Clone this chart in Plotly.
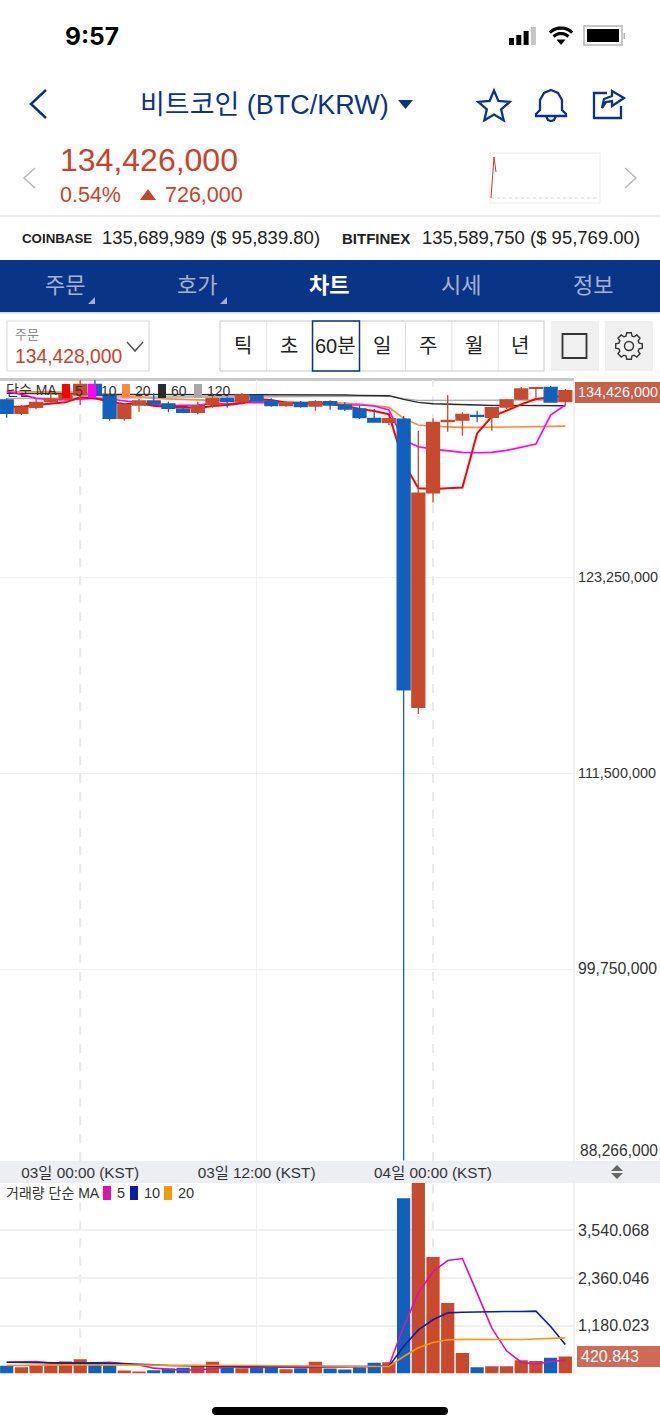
import math
import plotly.graph_objects as go

W, H = 660, 1428
KR = "Liberation Sans, Noto Sans CJK KR, sans-serif"

times = ["02 19:00","02 20:00","02 21:00","02 22:00","02 23:00","03 00:00","03 01:00","03 02:00","03 03:00","03 04:00",
         "03 05:00","03 06:00","03 07:00","03 08:00","03 09:00","03 10:00","03 11:00","03 12:00","03 13:00","03 14:00",
         "03 15:00","03 16:00","03 17:00","03 18:00","03 19:00","03 20:00","03 21:00","03 22:00","03 23:00","04 00:00",
         "04 01:00","04 02:00","04 03:00","04 04:00","04 05:00","04 06:00","04 07:00","04 08:00","04 09:00"]
tick_times = ["03 00:00", "03 12:00", "04 00:00"]
tick_labels = ["03일 00:00 (KST)", "03일 12:00 (KST)", "04일 00:00 (KST)"]

# prices in millions of KRW
open_m = [133.86,133.06,133.42,133.76,133.92,134.16,134.80,134.16,132.76,133.56,133.80,133.62,133.32,133.12,133.60,133.96,133.76,134.12,133.80,133.52,
          133.70,133.50,133.76,133.56,133.32,132.76,132.52,132.72,115.44,128.29,132.56,132.66,132.94,132.82,133.44,133.92,134.56,134.62,133.76]
high_m = [133.96,133.56,133.96,134.46,134.36,135.06,135.06,134.26,133.66,133.92,134.26,133.76,133.46,133.76,134.26,134.06,134.26,134.16,133.96,133.80,
          133.80,133.86,133.84,133.72,133.52,133.32,132.76,132.90,132.00,132.76,134.16,133.12,133.22,133.46,133.92,134.64,134.60,134.70,134.52]
low_m = [132.80,132.96,133.30,133.66,133.86,133.56,133.92,132.62,132.62,133.16,133.46,133.12,133.06,133.00,133.40,133.40,133.60,133.76,133.46,133.46,
         133.40,133.22,133.28,133.20,132.72,132.50,132.36,88.27,115.04,127.71,131.96,131.72,132.52,132.02,133.32,133.86,134.00,133.70,133.56]
close_m = [133.06,133.42,133.72,133.92,134.20,134.80,134.12,132.76,133.56,133.80,133.66,133.36,133.12,133.52,133.96,133.76,134.16,133.80,133.52,133.70,
           133.46,133.76,133.56,133.32,132.80,132.54,132.74,116.48,128.27,132.52,132.64,133.00,132.88,133.40,133.86,134.52,134.60,133.74,134.426]

ma5_m = [133.46,133.46,133.56,133.66,133.72,134.02,133.96,133.76,133.60,133.66,133.52,133.44,133.46,133.36,133.50,133.56,133.66,133.92,133.86,133.70,
         133.66,133.66,133.62,133.52,133.32,133.20,133.00,130.12,128.57,128.53,128.55,128.61,131.86,132.86,133.22,133.60,133.92,134.00,134.12]
ma10_m = [134.36,134.20,133.96,133.88,133.86,133.92,133.96,133.92,133.80,133.72,133.60,133.52,133.52,133.56,133.66,133.62,133.70,133.70,133.70,133.72,
          133.68,133.66,133.66,133.56,133.56,133.50,133.26,131.46,131.06,130.92,130.80,130.72,130.70,130.72,130.84,131.04,131.22,132.96,133.56]
ma20_m = [134.36,134.36,134.36,134.36,134.34,134.32,134.16,134.12,134.12,134.06,133.96,133.92,133.88,133.84,133.84,133.82,133.80,133.80,133.80,133.78,
          133.76,133.74,133.72,133.68,133.62,133.54,133.42,132.76,132.36,132.28,132.24,132.22,132.22,132.22,132.22,132.24,132.26,132.28,132.30]
ma60_m = [134.26,134.26,134.26,134.24,134.24,134.22,134.22,134.20,134.20,134.20,134.18,134.18,134.16,134.16,134.16,134.16,134.16,134.16,134.16,134.16,
          134.16,134.16,134.16,134.16,134.14,134.14,134.12,133.90,133.72,133.64,133.60,133.58,133.56,133.54,133.54,133.54,133.54,133.52,133.52]
ma120_m = [133.96,133.96,133.96,133.96,133.96,134.00,134.00,134.00,134.00,134.00,134.04,134.04,134.04,134.04,134.04,134.04,134.04,134.04,134.04,134.08,
           134.08,134.08,134.08,134.08,134.08,134.08,134.10,133.94,133.84,133.84,133.84,133.84,133.84,133.84,133.84,133.84,133.84,133.84,133.86]

volume = [190,157,206,223,297,355,239,206,74,50,82,124,140,190,289,157,132,140,140,107,
          132,289,124,99,148,264,280,4335,4900,2882,1744,507,153,178,178,327,309,391,420.843]
vol_ma5 = [280,297,297,256,247,256,264,280,247,214,132,99,82,91,115,165,148,148,157,165,
           148,165,165,165,165,173,190,1163,1988,2524,2796,2845,1988,1122,561,280,231,297,330]
vol_ma10 = [280,272,272,264,256,256,264,256,247,231,214,198,190,181,173,173,173,173,173,173,
            173,173,173,173,173,173,181,668,1080,1328,1501,1517,1526,1534,1534,1534,1542,1163,717]
vol_ma20 = [198,206,214,214,214,214,214,214,214,214,214,214,214,206,206,206,198,198,190,190,
            181,181,173,173,173,173,173,421,635,767,833,849,841,841,841,841,858,874,882]

price_ticks = [123250000, 111500000, 99750000]
price_tick_labels = ["123,250,000", "111,500,000", '<span style="font-size:15.8px">99,750,000</span>']
volume_ticks = [1180.023, 2360.046, 3540.068]
last_price = 134426000
last_volume = 420.843
lowest_label = 88266000

M = 1e6
RED, BLUE = "#c8492c", "#1060c0"
NAVY = "#0a3587"


def fx(x):
    return x / W


def fy(y):
    return 1 - y / H


def path_px(pts, close=False):
    s = "M " + " L ".join(f"{fx(a):.5f} {fy(b):.5f}" for a, b in pts)
    return s + (" Z" if close else "")


shapes, notes = [], []


def rect(x0, y0, x1, y1, fill=None, line=None, lw=1, layer="above"):
    shapes.append(dict(type="rect", xref="paper", yref="paper", x0=fx(x0), x1=fx(x1), y0=fy(y1), y1=fy(y0),
                       fillcolor=fill or "rgba(0,0,0,0)", line=dict(color=line or "rgba(0,0,0,0)", width=lw if line else 0),
                       layer=layer))


def poly(pts, line=None, lw=1.5, fill=None, close=False, dash=None):
    ln = dict(color=line or "rgba(0,0,0,0)", width=lw if line else 0)
    if dash:
        ln["dash"] = dash
    shapes.append(dict(type="path", xref="paper", yref="paper", path=path_px(pts, close),
                       fillcolor=fill or "rgba(0,0,0,0)", line=ln, layer="above"))


def circle(cx, cy, r, line=None, lw=1.5, fill=None):
    shapes.append(dict(type="circle", xref="paper", yref="paper", x0=fx(cx - r), x1=fx(cx + r), y0=fy(cy + r), y1=fy(cy - r),
                       fillcolor=fill or "rgba(0,0,0,0)", line=dict(color=line or "rgba(0,0,0,0)", width=lw if line else 0),
                       layer="above"))


def text(x, y, s, size, color="#222222", anchor="left", bold=False, family=KR):
    notes.append(dict(xref="paper", yref="paper", x=fx(x), y=fy(y), text=f"<b>{s}</b>" if bold else s,
                      showarrow=False, xanchor=anchor, yanchor="middle", align=anchor,
                      font=dict(size=size, color=color, family=family), borderpad=0))


# ---------- panels (below the traces)
rect(0, 1161, W, 1183, fill="#eceef4", layer="below")
rect(0, 378, 574, 381, fill="#c9c9c9", layer="below")
rect(573.5, 381, 574.5, 1161, fill="#e6e6e6", layer="below")
rect(573.5, 1183, 574.5, 1374, fill="#e6e6e6", layer="below")

for axis_y, y0, y1 in (("y domain", 0, 1), ("y2 domain", 0, 1)):
    xaxis = "x" if axis_y.startswith("y ") else "x2"
    for t, dash, col, wd in ((tick_times[0], "dash", "#e8eaee", 2), (tick_times[1], "solid", "#eff0f4", 1), (tick_times[2], "dash", "#e8eaee", 2)):
        shapes.append(dict(type="line", xref=xaxis, yref=axis_y, x0=t, x1=t, y0=y0, y1=y1,
                           line=dict(color=col, width=wd, dash=dash), layer="below"))

# ---------- status bar
text(64, 36, "9:57", 24.5, "#000000", bold=True, family="Inter, Liberation Sans")
for i, top in enumerate((38, 35, 31, 27)):
    rect(509 + i * 7.3, top, 514 + i * 7.3, 45, fill="#000000" if i < 3 else "#c4c4c4")
for r in (16, 10.5):
    pts = [(561 + r * math.sin(a / 10 * 1.56 - .78), 44 - r * math.cos(a / 10 * 1.56 - .78)) for a in range(11)]
    poly(pts, line="#000000", lw=3.2)
poly([(556.5, 39.5), (565.5, 39.5), (561, 45)], fill="#000000", close=True)
rect(584, 26, 622, 45, line="#b5b5b5", lw=1.5)
rect(587, 29, 619, 42, fill="#000000")
rect(623.5, 33, 625, 39, fill="#b5b5b5")

# ---------- header
poly([(46, 90), (31, 104), (46, 118)], line=NAVY, lw=2.5)
text(264, 105, "비트코인 (BTC/KRW)", 27, NAVY, "center")
poly([(398, 100), (413, 100), (405.5, 109)], fill=NAVY, close=True)
star = []
for i in range(10):
    r = 16.5 if i % 2 == 0 else 7.5
    a = -math.pi / 2 + i * math.pi / 5
    star.append((494 + r * math.cos(a), 107 + r * math.sin(a)))
poly(star, line=NAVY, lw=2.3, close=True)
poly([(536, 114), (540, 110), (540, 100), (544, 93), (551, 90), (558, 93), (562, 100), (562, 110), (566, 114), (566, 116), (536, 116)],
     line=NAVY, lw=2.3, close=True)
poly([(546, 116), (548, 120), (551, 121), (554, 120), (556, 116)], line=NAVY, lw=2.3)
poly([(607, 93), (594, 93), (594, 118), (621, 118), (621, 106)], line=NAVY, lw=2.3)
poly([(602, 108), (604, 99), (612, 96), (612, 91), (624, 98), (612, 106), (612, 101), (606, 102)], line=NAVY, lw=2.3, close=True)

text(59, 160, "134,426,000", 32, "#c9432a")
text(59, 195, "0.54%", 21.5, "#c9432a")
poly([(140, 200), (156, 200), (148, 189)], fill="#c9432a", close=True)
text(164, 195, "726,000", 21.5, "#c9432a")
poly([(35, 168), (24, 178), (35, 188)], line="#b9b9b9", lw=1.5)
poly([(625, 168), (636, 178), (625, 188)], line="#b9b9b9", lw=1.5)
rect(490, 153, 600, 203, line="#ececec", lw=1)
poly([(491, 198), (598, 198)], line="#d8d8d8", lw=1, dash="dot")
poly([(491, 198), (494, 157), (496, 172)], line="#d0392b", lw=1)
rect(0, 215, W, 217, fill="#eeeeee")

text(21, 239, "COINBASE", 13.3, "#222222", bold=True)
text(101, 238, "135,689,989 ($ 95,839.80)", 18.5, "#222222")
text(341, 239, "BITFINEX", 15, "#222222", bold=True)
text(421, 238, "135,589,750 ($ 95,769.00)", 18.5, "#222222")

rect(0, 260, W, 312, fill=NAVY)
for cx, s, active in ((65, "주문", 0), (197, "호가", 0), (329, "차트", 1), (461, "시세", 0), (593, "정보", 0)):
    text(cx, 286, s, 22, "#ffffff" if active else "#a3b2d0", "center", bold=bool(active))
for x0 in (88, 220):
    poly([(x0, 304), (x0 + 7, 304), (x0 + 7, 297)], fill="#a3b2d0", close=True)
rect(0, 312, W, 313.5, fill="#d5d9e4")

rect(7, 321, 149, 371, line="#dddddd", lw=1.2)
text(14, 334, "주문", 13, "#8a8a8a")
text(14, 356, "134,428,000", 19.3, "#c9432a")
poly([(127, 342), (135, 351), (143, 342)], line="#555555", lw=1.5)
rect(220, 321, 544, 371, line="#dddddd", lw=1.5)
for i in range(1, 7):
    rect(220 + i * 46.3, 321, 220 + i * 46.3 + .8, 371, fill="#dddddd")
for cx, s in ((243, "틱"), (289, "초"), (336, "60분"), (382, "일"), (428, "주"), (474, "월"), (520, "년")):
    text(cx, 346, s, 20, "#222222", "center")
rect(312.5, 321, 359.5, 371, line=NAVY, lw=1.5)
rect(551, 321, 599, 371, fill="#f0f0f0")
rect(562.5, 334, 586.5, 358, line="#333333", lw=1.8)
rect(605, 321, 653, 371, fill="#f0f0f0")
cog = []
for k in range(8):
    base = k * math.pi / 4
    for da, r in ((-.28, 10.5), (-.17, 13.5), (.17, 13.5), (.28, 10.5)):
        cog.append((629 + r * math.cos(base + da), 346 + r * math.sin(base + da)))
poly(cog, line="#333333", lw=1.4, close=True)
circle(629, 346, 4.5, line="#333333", lw=1.4)

# ---------- price legend
text(5, 390, "단순 MA", 14, "#333333")
for x0, col, s in ((62, "#ff0000", "5"), (88, "#ff00ff", "10"), (122, "#ff8a3c", "20"), (158, "#2a2a2a", "60"), (194, "#a9a9a9", "120")):
    rect(x0, 384, x0 + 8, 398, fill=col)
    text(x0 + 12, 391, s, 14, "#333333")

# ---------- volume legend
text(5, 1193, "거래량 단순 MA", 14, "#333333")
for x0, col, s in ((103, "#e010b0", "5"), (130, "#0a1fa8", "10"), (164, "#f59a00", "20")):
    rect(x0, 1186, x0 + 8, 1200, fill=col)
    text(x0 + 13, 1193, s, 14.5, "#333333")

# ---------- value tags
rect(575, 382, W, 403, fill="#c9604a")
notes.append(dict(xref="paper", yref="y", x=fx(617.5), y=last_price, yshift=-1, text=f"{last_price:,}", showarrow=False,
                  xanchor="center", yanchor="middle", font=dict(size=14.4, color="#ffffff", family=KR)))
rect(577, 1346, W, 1367, fill="#cf6a55")
notes.append(dict(xref="paper", yref="y2", x=fx(579), y=last_volume, text=f"{last_volume:,.3f}", showarrow=False,
                  xanchor="left", yanchor="middle", font=dict(size=16, color="#ffffff", family=KR)))
notes.append(dict(xref="paper", yref="y", x=fx(578), y=lowest_label, yshift=10, text=f"{lowest_label:,}", showarrow=False,
                  xanchor="left", yanchor="middle", font=dict(size=15.6, color="#333333", family=KR)))

# ---------- sort arrows / home bar
poly([(611, 1171), (623, 1171), (617, 1165)], fill="#666666", close=True)
poly([(611, 1173), (623, 1173), (617, 1179)], fill="#666666", close=True)
rect(216, 1407, 444, 1415, fill="#000000")
circle(216, 1411, 4, fill="#000000")
circle(444, 1411, 4, fill="#000000")

fig = go.Figure()

bar_colors = [RED if c >= o else BLUE for o, c in zip(open_m, close_m)]
fig.add_trace(go.Bar(x=times, y=volume, marker=dict(color=bar_colors, line=dict(width=0)), xaxis="x2", yaxis="y2", showlegend=False))
for vals, col in ((vol_ma5, "#e010b0"), (vol_ma10, "#0a1fa8"), (vol_ma20, "#f59a00")):
    fig.add_trace(go.Scatter(x=times, y=vals, mode="lines", line=dict(color=col, width=1.6), xaxis="x2", yaxis="y2", showlegend=False))

for vals, col, wd in ((ma120_m, "#a9a9a9", 1.4), (ma60_m, "#2a2a2a", 1.4), (ma20_m, "#ff8a3c", 1.7), (ma10_m, "#ff00ff", 1.7), (ma5_m, "#ff0000", 2)):
    fig.add_trace(go.Scatter(x=times, y=[v * M for v in vals], mode="lines", line=dict(color=col, width=wd), xaxis="x", yaxis="y", showlegend=False))
# candles live on an overlaying axis pair so that they sit on top of the moving averages
fig.add_trace(go.Candlestick(
    x=times,
    open=[v * M for v in open_m], high=[v * M for v in high_m], low=[v * M for v in low_m], close=[v * M for v in close_m],
    increasing=dict(line=dict(color=RED, width=1.3), fillcolor=RED),
    decreasing=dict(line=dict(color=BLUE, width=1.3), fillcolor=BLUE),
    whiskerwidth=0, xaxis="x3", yaxis="y3", showlegend=False))

xrange_ = [-0.456, 38.59]
yrange_ = [88240000, 135060000]
grid = "#f1f1f3"
fig.update_layout(
    width=W, height=H, autosize=False, margin=dict(l=0, r=0, t=0, b=0, pad=0),
    paper_bgcolor="#ffffff", plot_bgcolor="rgba(0,0,0,0)", showlegend=False,
    boxgap=0.12, boxgroupgap=0, bargap=0.1,
    shapes=shapes, annotations=notes,
    xaxis=dict(domain=[0, 574 / W], anchor="y", type="category", categoryorder="array", categoryarray=times, range=xrange_,
               tickmode="array", tickvals=tick_times, ticktext=tick_labels, ticks="", showgrid=False, zeroline=False, showline=False,
               ticklabelstandoff=1,
               tickfont=dict(size=15.3, color="#333333", family=KR), rangeslider=dict(visible=False), fixedrange=True),
    yaxis=dict(domain=[fy(1161), fy(380)], anchor="x", side="right", range=yrange_,
               tickmode="array", tickvals=price_ticks, ticktext=price_tick_labels, ticks="", showgrid=True, gridcolor=grid, gridwidth=1,
               ticklabelstandoff=3,
               zeroline=False, showline=False, tickfont=dict(size=14.4, color="#333333", family=KR), fixedrange=True),
    xaxis3=dict(domain=[0, 574 / W], anchor="y3", overlaying="x", type="category", categoryorder="array", categoryarray=times, range=xrange_,
                visible=False, rangeslider=dict(visible=False), fixedrange=True),
    yaxis3=dict(domain=[fy(1161), fy(380)], anchor="x3", overlaying="y", side="right", range=yrange_, visible=False, fixedrange=True),
    xaxis2=dict(domain=[0, 574 / W], anchor="y2", type="category", categoryorder="array", categoryarray=times, range=xrange_,
                showticklabels=False, ticks="", showgrid=False, zeroline=False, showline=False, fixedrange=True),
    yaxis2=dict(domain=[fy(1373.5), fy(1183)], anchor="x2", side="right", range=[0, 4713],
                tickmode="array", tickvals=volume_ticks, tickformat=",.3f", ticks="", showgrid=True, gridcolor=grid, gridwidth=2,
                ticklabelstandoff=3,
                zeroline=False, showline=False, tickfont=dict(size=16, color="#333333", family=KR), fixedrange=True),
)

fig.write_html("out.html", config=dict(displayModeBar=False),
               post_script="document.body.style.margin='0';document.documentElement.style.overflow='hidden';")
